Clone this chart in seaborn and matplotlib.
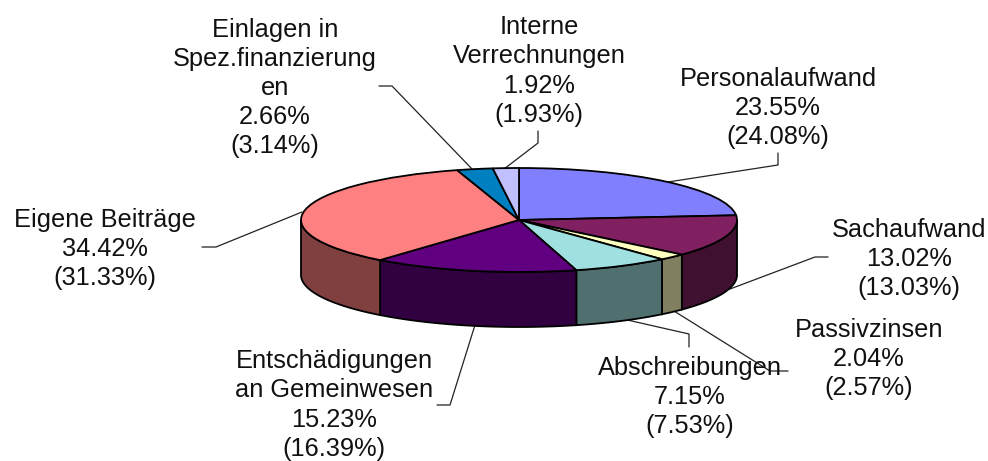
import numpy as np
import matplotlib
matplotlib.use("Agg")
import matplotlib.pyplot as plt
from matplotlib.transforms import Affine2D
import seaborn as sns

# ---- data ----
categories = ["Personalaufwand", "Sachaufwand", "Passivzinsen", "Abschreibungen",
              "Entschädigungen\nan Gemeinwesen", "Eigene Beiträge",
              "Einlagen in\nSpez.finanzierung\nen", "Interne\nVerrechnungen"]
share_current = [23.55, 13.02, 2.04, 7.15, 15.23, 34.42, 2.66, 1.92]
share_previous = [24.08, 13.03, 2.57, 7.53, 16.39, 31.33, 3.14, 1.93]
top_colors = ["#8080FF", "#802060", "#FFFFC0", "#A0E0E0", "#600080", "#FF8080", "#0080C0", "#C0C0FF"]
side_colors = ["#404080", "#401030", "#808060", "#507070", "#300040", "#804040", "#004060", "#606080"]

# ---- layout (pixels of the 988x461 canvas) ----
W, H = 988, 461
CX, CY, RX, RY, DEPTH = 519, 220, 218, 52, 55
label_pos = [(778, 108), (909, 259), (869, 359), (690, 397), (334, 405),
             (105, 249), (275, 88), (539, 71)]
leaders = [
    [(668, 182), (778, 165), (778, 153)],
    [(730, 289), (815, 257), (828, 257)],
    [(674, 311), (770, 371), (788, 371)],
    [(623, 319), (689, 334), (689, 347)],
    [(475, 325), (450, 405), (437, 405)],
    [(302, 212), (216, 247), (202, 247)],
    [(473, 170), (392, 86), (379, 86)],
    [(504, 169), (538, 143), (538, 131)],
]

sns.set_theme(style="white")
plt.rcParams["font.family"] = ["Liberation Sans", "DejaVu Sans"]

fig = plt.figure(figsize=(W / 100, H / 100), dpi=100, facecolor="white")
ax = fig.add_axes([0, 0, 1, 1])
depth = DEPTH / RY

# front wall, one piece per slice, clipped to the near half of the ellipse
fractions = np.array(share_current) / sum(share_current)
edges = np.concatenate([[0], np.cumsum(fractions)]) * 2 * np.pi  # clockwise from 12 o'clock
for a, b, c in zip(edges[:-1], edges[1:], side_colors):
    lo, hi = max(a, np.pi / 2), min(b, 3 * np.pi / 2)
    if hi <= lo:
        continue
    t = np.linspace(lo, hi, 80)
    x, y = np.sin(t), np.cos(t)
    ax.fill(np.r_[x, x[::-1]], np.r_[y, y[::-1] - depth], facecolor=c, edgecolor="black", linewidth=1.3, zorder=2)

# top face
ax.pie(share_current, colors=top_colors, startangle=90, counterclock=False, radius=1, center=(0, 0),
       wedgeprops=dict(edgecolor="black", linewidth=1.3, zorder=3), normalize=True)
ax.set_aspect("auto")
ax.set_xlim(-CX / RX, (W - CX) / RX)
ax.set_ylim((CY - H) / RY, CY / RY)
ax.axis("off")

px = Affine2D().scale(1 / W, -1 / H).translate(0, 1) + fig.transFigure
for pts in leaders:
    xs, ys = zip(*pts)
    ax.plot(xs, ys, color="#222222", linewidth=0.9, transform=px, zorder=1, clip_on=False)
for (lx, ly), name, cur, prev in zip(label_pos, categories, share_current, share_previous):
    ax.text(lx, ly, f"{name}\n{cur:.2f}%\n({prev:.2f}%)", transform=px, ha="center", va="center",
            fontsize=18.3, color="#111111", linespacing=1.27, zorder=5)

fig.savefig("out.png", dpi=100)
